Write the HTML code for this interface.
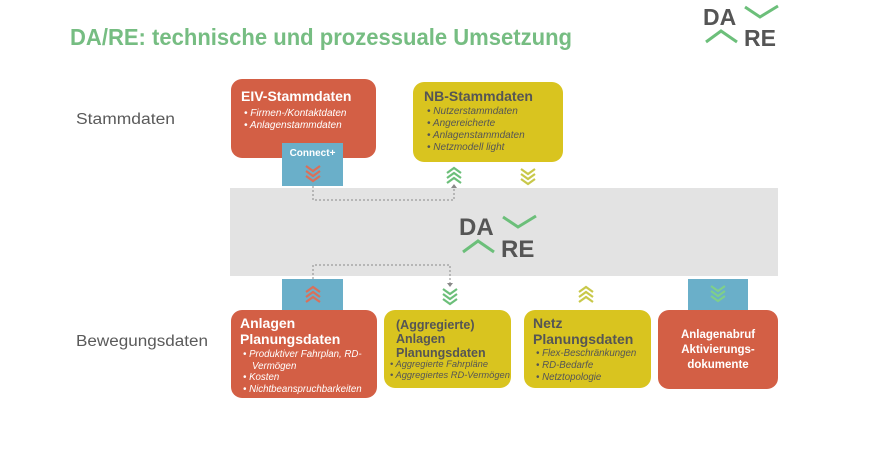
<!DOCTYPE html>
<html><head><meta charset="utf-8"><style>
html,body{margin:0;padding:0;background:#fff;}
svg{display:block;}
text{font-family:"Liberation Sans",sans-serif;}
</style></head><body>
<svg width="872" height="449" viewBox="0 0 872 449" xmlns="http://www.w3.org/2000/svg">
<defs>
<g id="chev"><polyline points="-7,0 0,5 7,0" fill="none" stroke-width="2.2"/><polyline points="-7,5 0,10 7,5" fill="none" stroke-width="2.2"/><polyline points="-7,10 0,15 7,10" fill="none" stroke-width="2.2"/></g>
<g id="chevu"><polyline points="-7,5 0,0 7,5" fill="none" stroke-width="2.2"/><polyline points="-7,10 0,5 7,10" fill="none" stroke-width="2.2"/><polyline points="-7,15 0,10 7,15" fill="none" stroke-width="2.2"/></g>
</defs>
<text x="70" y="45" font-size="23" font-weight="bold" fill="#76bd82" textLength="502" lengthAdjust="spacingAndGlyphs">DA/RE: technische und prozessuale Umsetzung</text>
<text x="703" y="25" font-size="23" font-weight="bold" fill="#555">DA</text>
<polyline points="745,7 760,17 778,6" fill="none" stroke="#6cbf7a" stroke-width="3"/>
<polyline points="706,42 721,31 737,42" fill="none" stroke="#6cbf7a" stroke-width="3"/>
<text x="744" y="46" font-size="23" font-weight="bold" fill="#555">RE</text>

<text x="76" y="124" font-size="15.5" fill="#5a5a5a" textLength="99" lengthAdjust="spacingAndGlyphs">Stammdaten</text>
<text x="76" y="346" font-size="15.5" fill="#5a5a5a" textLength="132" lengthAdjust="spacingAndGlyphs">Bewegungsdaten</text>

<rect x="230" y="188" width="548" height="88" fill="#e3e3e3"/>
<text x="459" y="235" font-size="24" font-weight="bold" fill="#555">DA</text>
<polyline points="503,217 518,227 536,216" fill="none" stroke="#6cbf7a" stroke-width="3"/>
<polyline points="463,252 478,241 494,252" fill="none" stroke="#6cbf7a" stroke-width="3"/>
<text x="501" y="257" font-size="24" font-weight="bold" fill="#555">RE</text>

<rect x="231" y="79" width="145" height="79" rx="11" fill="#d35f45"/>
<text x="241" y="101" font-size="14" font-weight="bold" fill="#fff">EIV-Stammdaten</text>
<g font-size="10" font-style="italic" fill="#fff"><text x="244" y="116">•  Firmen-/Kontaktdaten</text><text x="244" y="128">•  Anlagenstammdaten</text></g>
<rect x="282" y="143" width="61" height="43" fill="#6aafc9"/>
<text x="312.5" y="156" font-size="10" font-weight="bold" fill="#fff" text-anchor="middle">Connect+</text>
<use href="#chev" x="313" y="166" stroke="#d9705a"/>

<rect x="413" y="82" width="150" height="80" rx="11" fill="#d9c41f"/>
<text x="424" y="101" font-size="14" font-weight="bold" fill="#555">NB-Stammdaten</text>
<g font-size="10" font-style="italic" fill="#555"><text x="427" y="114">•  Nutzerstammdaten</text><text x="427" y="126">•  Angereicherte</text><text x="427" y="138">•  Anlagenstammdaten</text><text x="427" y="150">•  Netzmodell light</text></g>
<use href="#chevu" x="454" y="168" stroke="#6cbf7a"/>
<use href="#chev" x="528" y="169" stroke="#c8c84a"/>

<polyline points="313,186 313,200 454,200 454,186" fill="none" stroke="#888" stroke-width="1" stroke-dasharray="2,2"/>
<polygon points="451,188 457,188 454,184" fill="#888"/>
<polyline points="313,279 313,265 450,265 450,283" fill="none" stroke="#888" stroke-width="1" stroke-dasharray="2,2"/>
<polygon points="447,283 453,283 450,287" fill="#888"/>

<rect x="282" y="279" width="61" height="33" fill="#6aafc9"/>
<use href="#chevu" x="313" y="287" stroke="#d9705a"/>
<use href="#chev" x="450" y="289" stroke="#6cbf7a"/>
<use href="#chevu" x="586" y="287" stroke="#c8c84a"/>
<rect x="688" y="279" width="60" height="33" fill="#6aafc9"/>
<use href="#chev" x="718" y="286" stroke="#7fcf8a"/>

<rect x="231" y="310" width="146" height="88" rx="11" fill="#d35f45"/>
<text x="240" y="328" font-size="14" font-weight="bold" fill="#fff">Anlagen</text>
<text x="240" y="344" font-size="14" font-weight="bold" fill="#fff">Planungsdaten</text>
<g font-size="9.7" font-style="italic" fill="#fff"><text x="243" y="357">•  Produktiver Fahrplan, RD-</text><text x="252" y="369">Vermögen</text><text x="243" y="380">•  Kosten</text><text x="243" y="392">•  Nichtbeanspruchbarkeiten</text></g>

<rect x="384" y="310" width="127" height="78" rx="11" fill="#d9c41f"/>
<g font-size="12.5" font-weight="bold" fill="#555"><text x="396" y="329">(Aggregierte)</text><text x="396" y="343">Anlagen</text><text x="396" y="357">Planungsdaten</text></g>
<g font-size="9.3" font-style="italic" fill="#555"><text x="390" y="367">•  Aggregierte Fahrpläne</text><text x="390" y="378">•  Aggregiertes RD-Vermögen</text></g>

<rect x="524" y="310" width="127" height="78" rx="11" fill="#d9c41f"/>
<g font-size="14" font-weight="bold" fill="#555"><text x="533" y="328">Netz</text><text x="533" y="344">Planungsdaten</text></g>
<g font-size="9.7" font-style="italic" fill="#555"><text x="536" y="356">•  Flex-Beschränkungen</text><text x="536" y="368">•  RD-Bedarfe</text><text x="536" y="380">•  Netztopologie</text></g>

<rect x="658" y="310" width="120" height="79" rx="11" fill="#d35f45"/>
<g font-size="11.5" font-weight="bold" fill="#fff" text-anchor="middle"><text x="718" y="338">Anlagenabruf</text><text x="718" y="353">Aktivierungs-</text><text x="718" y="368">dokumente</text></g>
</svg>
</body></html>
